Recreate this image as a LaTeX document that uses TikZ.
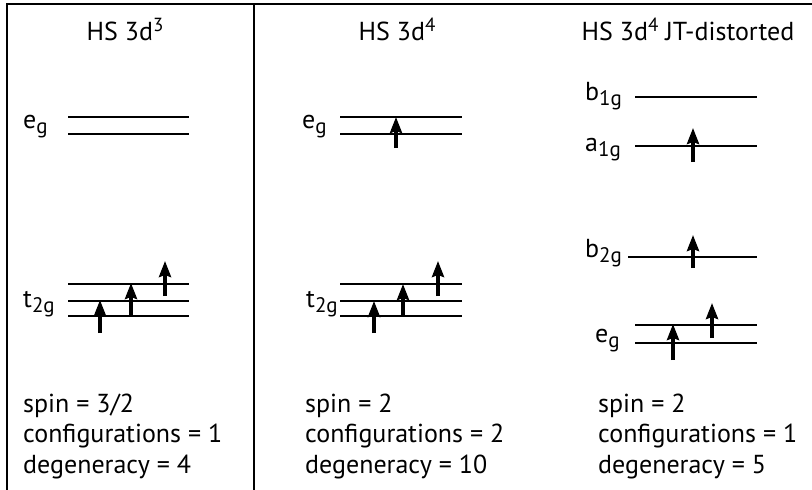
\documentclass[tikz,border=0pt]{standalone}
\usepackage{fontspec}
\setmainfont{PT Sans}
\usetikzlibrary{arrows.meta}
\newcommand\lsub[1]{\raisebox{-5pt}{\fontsize{21}{21}\selectfont #1}}
\newcommand\lsup[1]{\raisebox{9pt}{\fontsize{19}{19}\selectfont #1}}
\begin{document}
\begin{tikzpicture}[x=1pt,y=-1pt,
  level/.style={line width=2.3pt},
  elec/.style={line width=3.4pt,-{Stealth[width=12pt,length=16pt,inset=2pt]}},
  frameline/.style={line width=1.8pt},
  txt/.style={anchor=base west,inner sep=0pt,font=\fontsize{26}{26}\selectfont},
  ttl/.style={anchor=base,inner sep=0pt,font=\fontsize{26}{26}\selectfont}]
\useasboundingbox (0,0) rectangle (812,490);
% frame
\draw[frameline] (7,490) -- (7,4) -- (812,4);
\draw[frameline] (254,4) -- (254,490);
% titles
\node[ttl] (t1) at (125,40) {HS 3d\lsup{3}};
\node[ttl] (t2) at (397,40) {HS 3d\lsup{4}};
\node[ttl] (t3) at (688,40) {HS 3d\lsup{4} JT-distorted};
% panel 1
\node[txt] (p1eg) at (23,128) {e\lsub{g}};
\node[txt] (p1t2g) at (23,307) {t\lsub{2g}};
\draw[level] (68,117) -- (189,117);
\draw[level] (68,134) -- (189,134);
\draw[level] (68,284) -- (189,284);
\draw[level] (68,301) -- (189,301);
\draw[level] (68,316) -- (189,316);
\draw[elec] (100,333) -- (100,300);
\draw[elec] (131,316) -- (131,283);
\draw[elec] (165,296) -- (165,261);
\node[txt] (p1a) at (23,412) {spin = 3/2};
\node[txt] (p1b) at (23,442) {configurations = 1};
\node[txt] (p1c) at (23,473) {degeneracy = 4};
% panel 2
\node[txt] (p2eg) at (302,128) {e\lsub{g}};
\node[txt] (p2t2g) at (306,307) {t\lsub{2g}};
\draw[level] (340,117) -- (462,117);
\draw[level] (340,134) -- (462,134);
\draw[level] (340,284) -- (462,284);
\draw[level] (340,301) -- (462,301);
\draw[level] (340,316) -- (462,316);
\draw[elec] (396,148) -- (396,117);
\draw[elec] (374,333) -- (374,301);
\draw[elec] (403,316) -- (403,284);
\draw[elec] (438,296) -- (438,261);
\node[txt] (p2a) at (305,412) {spin = 2};
\node[txt] (p2b) at (305,442) {configurations = 2};
\node[txt] (p2c) at (305,473) {degeneracy = 10};
% panel 3
\node[txt] (p3b1g) at (585,100) {b\lsub{1g}};
\node[txt] (p3a1g) at (585,151) {a\lsub{1g}};
\node[txt] (p3b2g) at (585,257) {b\lsub{2g}};
\node[txt] (p3eg) at (595,342) {e\lsub{g}};
\draw[level] (635,97) -- (757,97);
\draw[level] (635,146) -- (757,146);
\draw[level] (628,257) -- (757,257);
\draw[level] (635,325) -- (757,325);
\draw[level] (635,343) -- (757,343);
\draw[elec] (693,162) -- (693,128);
\draw[elec] (693,268) -- (693,235);
\draw[elec] (673,360) -- (673,324);
\draw[elec] (712,338) -- (712,303);
\node[txt] (p3a) at (598,412) {spin = 2};
\node[txt] (p3b) at (598,442) {configurations = 1};
\node[txt] (p3c) at (598,473) {degeneracy = 5};
\end{tikzpicture}
\end{document}
